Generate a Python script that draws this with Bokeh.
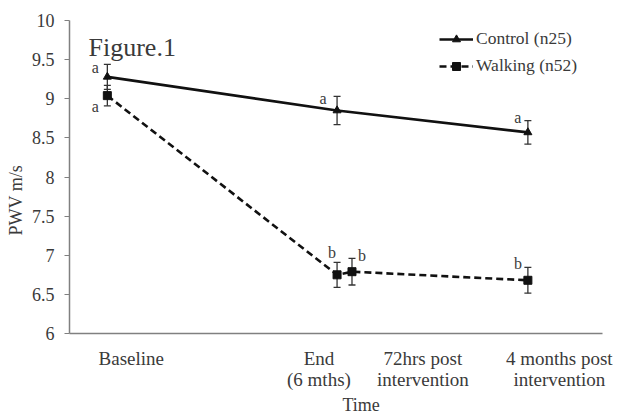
import math
from bokeh.plotting import figure
from bokeh.models import (ColumnDataSource, Range1d, FixedTicker, CustomJSTickFormatter,
                          Whisker, TeeHead, LabelSet, Label, Legend, LegendItem, Title)
from bokeh.embed import file_html
from bokeh.resources import INLINE

# ---- data ----
time_labels = ["Baseline", "End\n(6 mths)", "72hrs post\nintervention", "4 months post\nintervention"]
label_pos = [11.6, 46.8, 66.3, 91.9]

control_x = [7.1, 50.2, 86.0]
control_y = [9.28, 8.85, 8.57]
control_err = [0.16, 0.18, 0.15]
control_letters = ["a", "a", "a"]

walking_x = [7.1, 50.2, 53.0, 86.0]
walking_y = [9.04, 6.75, 6.79, 6.68]
walking_err = [0.13, 0.16, 0.17, 0.165]
walking_letters = ["a", "b", "b", "b"]

y_ticks = [6, 6.5, 7, 7.5, 8, 8.5, 9, 9.5, 10]

# label offsets (style, px)
control_dx = [-12, -14, -10]
control_dy = [9, 12, 15]
walking_dx = [-12, -5, 10, -10]
walking_dy = [-11, 22, 16, 17]

SERIF = "Liberation Serif"
TXT = "#3a3a3a"

p = figure(width=619, height=416, output_backend="svg", toolbar_location=None,
           x_range=Range1d(0, 100), y_range=Range1d(6, 10),
           min_border_left=68, min_border_right=17, min_border_top=20, min_border_bottom=83)
p.outline_line_color = None
p.grid.grid_line_color = None
p.background_fill_color = "white"
p.border_fill_color = "white"

cs = ColumnDataSource(dict(x=control_x, y=control_y,
                           lo=[v - e for v, e in zip(control_y, control_err)],
                           hi=[v + e for v, e in zip(control_y, control_err)],
                           t=control_letters, dx=control_dx, dy=control_dy))
ws = ColumnDataSource(dict(x=walking_x, y=walking_y,
                           lo=[v - e for v, e in zip(walking_y, walking_err)],
                           hi=[v + e for v, e in zip(walking_y, walking_err)],
                           t=walking_letters, dx=walking_dx, dy=walking_dy))

for src in (cs, ws):
    w = Whisker(source=src, base="x", lower="lo", upper="hi", dimension="height",
                line_color="#333333", line_width=1.3,
                upper_head=TeeHead(size=7, line_color="#333333", line_width=1.3),
                lower_head=TeeHead(size=7, line_color="#333333", line_width=1.3))
    p.add_layout(w)

cl = p.line("x", "y", source=cs, line_color="#111111", line_width=2.6)
cm = p.scatter("x", "y", source=cs, marker="triangle", size=8, fill_color="#111111", line_color="#111111")
wl = p.line("x", "y", source=ws, line_color="#111111", line_width=2.6, line_dash="7 4")
wm = p.scatter("x", "y", source=ws, marker="square", size=8, fill_color="#111111", line_color="#111111")

for src in (cs, ws):
    ls = LabelSet(source=src, x="x", y="y", text="t", x_offset="dx", y_offset="dy",
                  text_font=SERIF, text_font_size="16px", text_color=TXT,
                  text_align="center", text_baseline="middle")
    p.add_layout(ls)

legend = Legend(items=[LegendItem(label="Control (n25)", renderers=[cl, cm]),
                       LegendItem(label="Walking (n52)", renderers=[wl, wm])],
                location=(370, 257), orientation="vertical",
                glyph_width=34, glyph_height=20, label_standoff=3, spacing=6,
                padding=0, margin=0, border_line_color=None, background_fill_alpha=0,
                label_text_font=SERIF, label_text_font_size="17.5px", label_text_color=TXT)
p.add_layout(legend, "center")

# axes
p.xaxis.ticker = FixedTicker(ticks=label_pos)
p.xaxis.major_label_overrides = {pos: lab for pos, lab in zip(label_pos, time_labels)}
p.xaxis.major_tick_line_color = None
p.xaxis.minor_tick_line_color = None
p.xaxis.major_label_standoff = 8
p.xaxis.major_label_text_font = SERIF
p.xaxis.major_label_text_font_size = "19px"
p.xaxis.major_label_text_line_height = 1.0
p.xaxis.major_label_text_color = TXT
p.xaxis.axis_line_color = "#808080"
p.xaxis.axis_line_width = 1.5

p.yaxis.ticker = FixedTicker(ticks=y_ticks)
p.yaxis.formatter = CustomJSTickFormatter(code="return tick.toString();")
p.yaxis.major_tick_out = 5
p.yaxis.major_tick_in = 0
p.yaxis.minor_tick_line_color = None
p.yaxis.major_tick_line_color = "#808080"
p.yaxis.major_label_standoff = 10
p.yaxis.major_label_text_font = SERIF
p.yaxis.major_label_text_font_size = "18px"
p.yaxis.major_label_text_color = TXT
p.yaxis.axis_line_color = "#808080"
p.yaxis.axis_line_width = 1.5

# axis titles as side-panel titles so they can be offset like the original
p.add_layout(Title(text="Time", align="left", offset=273, standoff=0,
                   text_font=SERIF, text_font_size="18px", text_font_style="normal",
                   text_color=TXT), "below")
p.add_layout(Title(text="PWV m/s", align="left", offset=98, standoff=6,
                   text_font=SERIF, text_font_size="18px", text_font_style="normal",
                   text_color=TXT), "left")

p.add_layout(Label(x=19, y=286, x_units="screen", y_units="screen", text="Figure.1",
                   text_font=SERIF, text_font_size="26px", text_color=TXT,
                   text_align="left", text_baseline="middle"))

open("out.html", "w").write(file_html(p, INLINE))
